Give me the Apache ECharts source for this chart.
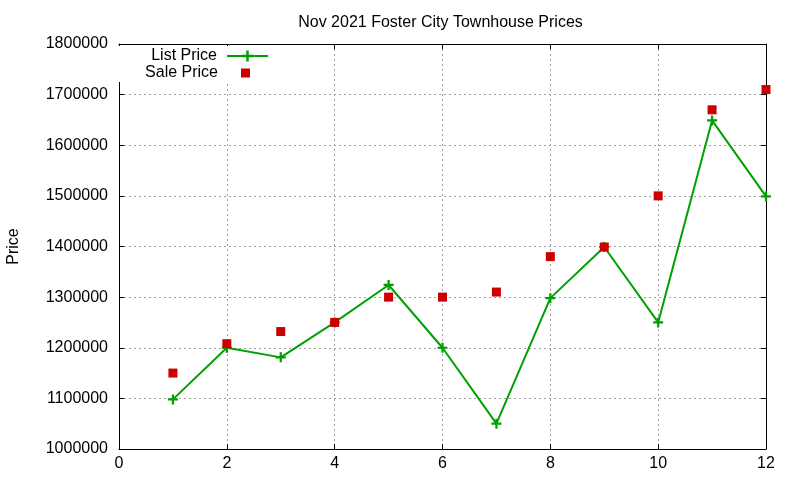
<!DOCTYPE html>
<html><head><meta charset="utf-8">
<script src="https://cdn.jsdelivr.net/npm/echarts@6/dist/echarts.min.js"></script>
<style>html,body{margin:0;padding:0;background:#fff}#c{width:800px;height:480px}</style>
</head><body><div id="c"></div>
<script>
var months = [1,2,3,4,5,6,7,8,9,10,11,12];
var listPrice = [1098000,1200000,1181000,1250000,1324000,1200000,1050000,1298000,1399000,1250000,1649000,1499000];
var salePrice = [1150000,1208000,1232000,1250000,1300000,1300000,1310000,1380000,1399000,1500000,1670000,1710000];
var title = 'Nov 2021 Foster City Townhouse Prices';

var FONT = 'Liberation Sans';
var plus = 'path://M-1,-4.5H1V-1H4.5V1H1V4.5H-1V1H-4.5V-1H-1Z';
function pairs(v){ return months.map(function(m,i){ return [m, v[i]]; }); }
var gridStyle = {show:true, lineStyle:{color:'#a0a0a0', type:[2,3], width:1}};
var chart = echarts.init(document.getElementById('c'), null, {renderer:'canvas'});
chart.setOption({
  animation:false,
  backgroundColor:'#fff',
  textStyle:{fontFamily:FONT, color:'#000'},
  title:{text:title, left:435.5, textAlign:'center', top:10,
    textStyle:{fontFamily:FONT, fontSize:16, fontWeight:'normal', color:'#000'}},
  grid:{left:119, right:34, top:44, bottom:31, containLabel:false, outerBoundsMode:'none'},
  legend:[
    {data:['List Price'], align:'right', right:525, top:46, itemWidth:41, itemHeight:14,
     padding:[2,6,2,40], backgroundColor:'#fff',
     textStyle:{fontFamily:FONT, fontSize:16, color:'#000', padding:[0,5,0,0]}},
    {data:['Sale Price'], align:'right', right:527, top:63, itemWidth:9, itemHeight:9,
     icon:'rect', padding:[2,23,1,40], backgroundColor:'#fff',
     textStyle:{fontFamily:FONT, fontSize:16, color:'#000', padding:[0,18,0,0]}}
  ],
  xAxis:[
    {type:'value', min:0, max:12, interval:2, position:'bottom',
     axisLine:{show:true, lineStyle:{color:'#000', width:1}},
     axisTick:{show:true, inside:true, length:5, lineStyle:{color:'#000'}},
     axisLabel:{fontFamily:FONT, fontSize:16, color:'#000', margin:7},
     splitLine:gridStyle},
    {type:'value', min:0, max:12, interval:2, position:'top',
     axisLine:{show:true, onZero:false, lineStyle:{color:'#000', width:1}},
     axisTick:{show:true, inside:true, length:5, lineStyle:{color:'#000'}},
     axisLabel:{show:false}, splitLine:{show:false}}
  ],
  yAxis:[
    {type:'value', min:1000000, max:1800000, interval:100000, position:'left',
     name:'Price', nameLocation:'middle', nameGap:97, nameRotate:90,
     nameTextStyle:{fontFamily:FONT, fontSize:16, color:'#000'},
     axisLine:{show:true, onZero:false, lineStyle:{color:'#000', width:1}},
     axisTick:{show:true, inside:true, length:5, lineStyle:{color:'#000'}},
     axisLabel:{fontFamily:FONT, fontSize:16, color:'#000', margin:11,
       formatter:function(v){ return String(v); }},
     splitLine:gridStyle},
    {type:'value', min:1000000, max:1800000, interval:100000, position:'right',
     axisLine:{show:true, onZero:false, lineStyle:{color:'#000', width:1}},
     axisTick:{show:true, inside:true, length:5, lineStyle:{color:'#000'}},
     axisLabel:{show:false}, splitLine:{show:false}}
  ],
  series:[
    {name:'List Price', type:'line', xAxisIndex:0, yAxisIndex:0, data:pairs(listPrice),
     symbol:plus, symbolSize:10, showAllSymbol:true,
     lineStyle:{color:'#00a000', width:2}, itemStyle:{color:'#00a000'}, z:3},
    {name:'Sale Price', type:'scatter', xAxisIndex:0, yAxisIndex:0, data:pairs(salePrice),
     symbol:'rect', symbolSize:9, itemStyle:{color:'#cc0000', opacity:1}, z:4}
  ]
});
</script></body></html>
